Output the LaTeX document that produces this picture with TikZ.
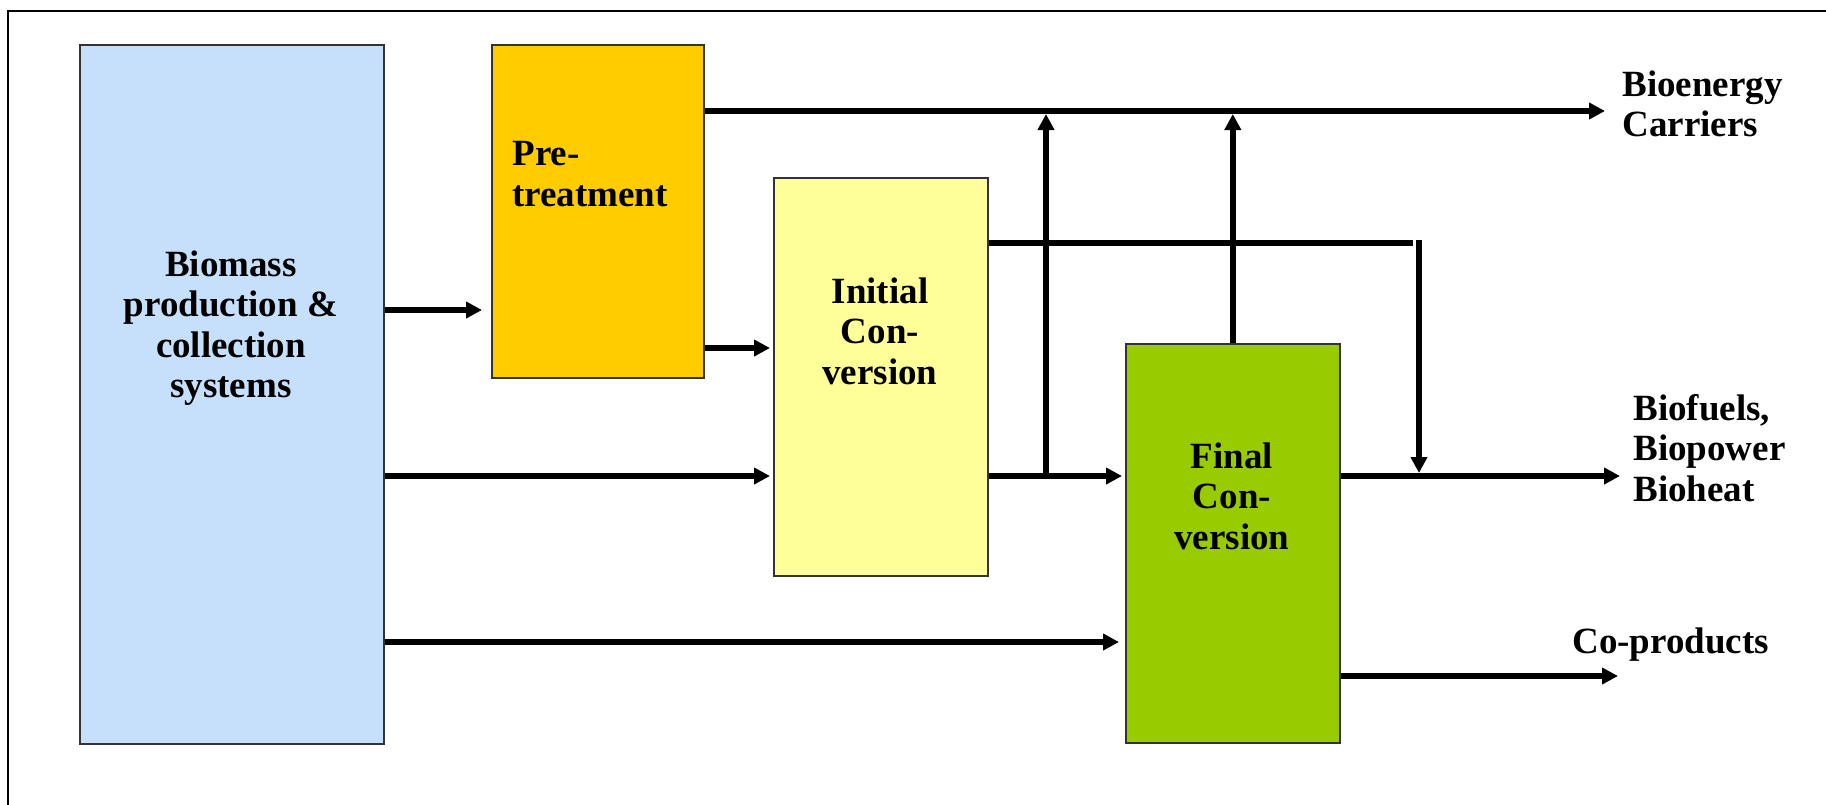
\documentclass[tikz,border=0pt]{standalone}
\usepackage{fontspec}
\setmainfont{Liberation Serif}
\usetikzlibrary{arrows.meta}
\definecolor{bioblue}{RGB}{198,224,252}
\definecolor{preorange}{RGB}{255,204,0}
\definecolor{iniyellow}{RGB}{255,255,153}
\definecolor{fingreen}{RGB}{153,204,0}
\begin{document}
\begin{tikzpicture}[x=0.5pt,y=-0.5pt,
  box/.style={draw=black!80, line width=0.8pt, inner sep=0pt, anchor=north west},
  conn/.style={line width=3pt},
  arr/.style={conn, -{Triangle[length=8pt,width=8pt]}},
  lbl/.style={font=\fontsize{18.5}{20.25}\selectfont\bfseries, inner sep=0pt},
]
\useasboundingbox (0,0) rectangle (1826,804);
\clip (0,0) rectangle (1826,804);
\draw[line width=1pt] (8,11) rectangle (1850,830);

% boxes
\node[box, fill=bioblue, minimum width=152pt, minimum height=349.5pt] (bio) at (79,44) {};
\node[box, fill=preorange, minimum width=106pt, minimum height=166.5pt] (pre) at (491,44) {};
\node[box, fill=iniyellow, minimum width=107pt, minimum height=199pt] (ini) at (773,177) {};
\node[box, fill=fingreen, minimum width=107pt, minimum height=199.5pt] (fin) at (1125,343) {};

% box texts
\node[lbl, align=center, anchor=north] (biotext) at (231,250) {Biomass\\production \&\\collection\\systems};
\node[lbl, align=left, anchor=north west] (pretext) at (512,141) {Pre-\\treatment};
\node[lbl, align=center, anchor=north] (initext) at (880,277) {Initial\\Con-\\version};
\node[lbl, align=center, anchor=north] (fintext) at (1232,442) {Final\\Con-\\version};

% output labels
\node[lbl, align=left, anchor=north west] (carriers) at (1622,70) {Bioenergy\\Carriers};
\node[lbl, align=left, anchor=north west] (biofuels) at (1633,394) {Biofuels,\\Biopower\\Bioheat};
\node[lbl, anchor=base west] (coprod) at (1572,653) {Co-products};

% levels
\coordinate (yA) at (0,111);
\coordinate (yB) at (0,243);
\coordinate (yC) at (0,310);
\coordinate (yD) at (0,348);
\coordinate (yE) at (0,476);
\coordinate (yF) at (0,642);
\coordinate (yG) at (0,676);

% connectors
\draw[arr, shorten >=4.5pt] (bio.east |- yC) -- (pre.west |- yC);
\draw[arr, shorten >=1.5pt] (pre.east |- yD) -- (ini.west |- yD);
\draw[arr, shorten >=1.5pt] (bio.east |- yE) -- (ini.west |- yE);
\draw[arr, shorten >=1.5pt] (ini.east |- yE) -- (fin.west |- yE);
\draw[arr, shorten >=3pt] (bio.east |- yF) -- (fin.west |- yF);

\coordinate (outA) at (1605,111);
\draw[arr] (pre.east |- yA) -- (outA);

\coordinate (j1) at (1046,476);
\coordinate (j1t) at (1046,114);
\draw[arr] (j1) -- (j1t);
\draw[arr] (fin.north) -- (fin.north |- j1t);

\coordinate (bend) at (1413,243);
\draw[conn] (ini.east |- yB) -- (bend);
\coordinate (d1) at (1419,240);
\coordinate (d2) at (1419,473);
\draw[arr] (d1) -- (d2);

\coordinate (outB) at (1620,476);
\draw[arr] (fin.east |- yE) -- (outB);
\coordinate (outC) at (1618,676);
\draw[arr] (fin.east |- yG) -- (outC);
\end{tikzpicture}
\end{document}
